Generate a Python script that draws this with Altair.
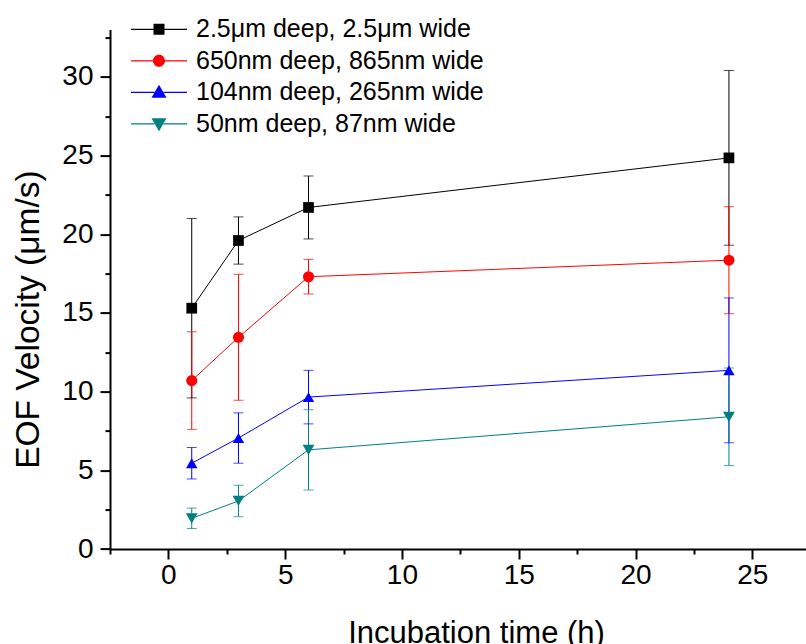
import altair as alt
import pandas as pd

# ---- data ----
series_names = [
    "2.5\u03bcm deep, 2.5\u03bcm wide",
    "650nm deep, 865nm wide",
    "104nm deep, 265nm wide",
    "50nm deep, 87nm wide",
]
series_colors = ["#000000", "#FF0000", "#0000FF", "#008080"]
series_shapes = ["square", "circle", "triangle-up", "triangle-down"]
series_sizes = [115, 140, 210, 210]

times = [1, 3, 6, 24]
means = [
    [15.3, 19.6, 21.7, 24.85],
    [10.7, 13.45, 17.3, 18.35],
    [5.45, 7.05, 9.65, 11.35],
    [1.95, 3.05, 6.3, 8.4],
]
errors = [
    [5.7, 1.5, 2.0, 5.55],
    [3.1, 4.0, 1.1, 3.4],
    [1.0, 1.6, 1.7, 4.6],
    [0.65, 1.0, 2.55, 3.1],
]

x_ticks = [-2.5, 0, 2.5, 5, 7.5, 10, 12.5, 15, 17.5, 20, 22.5, 25]
y_ticks = [0, 2.5, 5, 7.5, 10, 12.5, 15, 17.5, 20, 22.5, 25, 27.5, 30, 32.5]

# legend symbols: line stub + marker (custom SVG paths, unit = sqrt(symbolSize)/2)
stub = "M-2.8,-0.06H-0.45V0.06H-2.8Z M0.45,-0.06H2.8V0.06H0.45Z "
legend_paths = [
    stub + "M-0.55,-0.55H0.55V0.55H-0.55Z",
    stub + "M-0.6,0A0.6,0.6,0,1,1,0.6,0A0.6,0.6,0,1,1,-0.6,0Z",
    stub + "M0,-0.75L0.75,0.55L-0.75,0.55Z",
    stub + "M0,0.75L0.75,-0.55L-0.75,-0.55Z",
]

rows = []
for name, m_list, e_list in zip(series_names, means, errors):
    for t, m, e in zip(times, m_list, e_list):
        rows.append({"series": name, "time": t, "mean": m, "lo": m - e, "hi": m + e})
df = pd.DataFrame(rows)

FONT = "Liberation Sans"

x_axis = alt.Axis(
    title="Incubation time (h)",
    values=x_ticks,
    labelExpr="datum.value % 5 === 0 ? datum.label : ''",
    tickSize={"condition": {"test": "datum.value % 5 === 0", "value": 10}, "value": 5},
    grid=False,
    domainColor="black", domainWidth=2, tickColor="black", tickWidth=2,
    labelFont=FONT, labelFontSize=28, labelColor="black", labelPadding=2,
    titleFont=FONT, titleFontSize=31, titleFontWeight="normal", titleColor="black",
    titleX=366, titleY=93, titleBaseline="alphabetic", titleAnchor="middle",
)
y_axis = alt.Axis(
    title="EOF Velocity (\u03bcm/s)",
    values=y_ticks,
    labelExpr="datum.value % 5 === 0 ? datum.label : ''",
    tickSize={"condition": {"test": "datum.value % 5 === 0", "value": 10}, "value": 5},
    grid=False,
    domainColor="black", domainWidth=2, tickColor="black", tickWidth=2,
    labelFont=FONT, labelFontSize=28, labelColor="black", labelPadding=7,
    titleFont=FONT, titleFontSize=33.5, titleFontWeight="normal", titleColor="black",
    titleX=-72, titleY=289.5, titleBaseline="alphabetic", titleAngle=270,
)

x_scale = alt.Scale(domain=[-2.5, 27.3], nice=False, zero=False)
y_scale = alt.Scale(domain=[0, 33], nice=False, zero=False)
color_scale = alt.Scale(domain=series_names, range=series_colors)


def X():
    return alt.X("time:Q", scale=x_scale, axis=x_axis)


def col(legend=None):
    return alt.Color("series:N", scale=color_scale, legend=legend)


base = alt.Chart(df)

err_rule = base.mark_rule(strokeWidth=1).encode(
    x=X(),
    y=alt.Y("lo:Q", scale=y_scale, axis=y_axis),
    y2="hi:Q",
    color=col(),
)
cap_lo = base.mark_tick(orient="horizontal", size=10, thickness=1).encode(
    x=X(), y=alt.Y("lo:Q", scale=y_scale, axis=y_axis), color=col()
)
cap_hi = base.mark_tick(orient="horizontal", size=10, thickness=1).encode(
    x=X(), y=alt.Y("hi:Q", scale=y_scale, axis=y_axis), color=col()
)
lines = base.mark_line(strokeWidth=1).encode(
    x=X(),
    y=alt.Y("mean:Q", scale=y_scale, axis=y_axis),
    color=col(),
    detail="series:N",
)
points = base.mark_point(filled=True, opacity=1).encode(
    x=X(),
    y=alt.Y("mean:Q", scale=y_scale, axis=y_axis),
    color=col(),
    shape=alt.Shape("series:N", scale=alt.Scale(domain=series_names, range=series_shapes), legend=None),
    size=alt.Size("series:N", scale=alt.Scale(domain=series_names, range=series_sizes), legend=None),
)

legend_props = dict(
    orient="none", legendX=36.5, legendY=-12.8, title=None,
    symbolSize=400, symbolStrokeWidth=0, symbolOffset=0,
    labelFont=FONT, labelFontSize=25, labelColor="black", labelOffset=24.5,
    rowPadding=5.5, padding=0, labelLimit=0,
)
legend_carrier = base.transform_filter("false").mark_point(filled=True, opacity=1).encode(
    x=X(),
    y=alt.Y("mean:Q", scale=y_scale, axis=y_axis),
    color=alt.Color("series:N", scale=color_scale, legend=alt.Legend(**legend_props)),
    shape=alt.Shape("series:N", scale=alt.Scale(domain=series_names, range=legend_paths),
                    legend=alt.Legend(**legend_props)),
)

chart = (
    alt.layer(err_rule, cap_lo, cap_hi, lines, points, legend_carrier)
    .resolve_scale(color="independent", shape="independent", size="independent")
    .properties(
        width=696,
        height=519.4,
        autosize=alt.AutoSizeParams(type="none"),
        padding={"left": 110, "top": 29.6, "right": 0, "bottom": 95},
        background="white",
    )
    .configure_view(stroke=None)
)

chart.save("out.html", embed_options={"renderer": "svg", "actions": False})
